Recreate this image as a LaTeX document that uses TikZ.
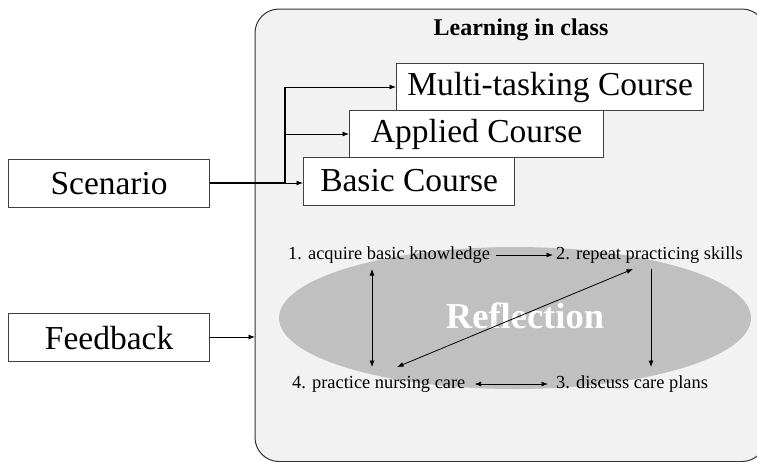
\documentclass[tikz,border=0pt]{standalone}
\usepackage{fontspec}
\setmainfont{Liberation Serif}
\usetikzlibrary{arrows.meta}
\definecolor{panel}{HTML}{F2F2F2}
\definecolor{refl}{HTML}{C0C0C0}
\definecolor{boxline}{HTML}{404040}
\tikzset{
  bigbox/.style={draw=boxline, line width=1.2pt, fill=white, inner sep=0pt, anchor=north west},
  bigtext/.style={font=\fontsize{33.5}{35}\selectfont},
  steptext/.style={font=\fontsize{18.4}{20}\selectfont, inner sep=0pt},
  conn/.style={line width=0.8pt, -{Latex[length=6.5pt,width=5pt]}},
  bconn/.style={line width=0.8pt, {Latex[length=6.5pt,width=5pt]}-{Latex[length=6.5pt,width=5pt]}},
}
\begin{document}
\begin{tikzpicture}[x=1pt,y=-1pt]
\useasboundingbox (0,0) rectangle (757,461);
% panel
\draw[fill=panel, draw=black!80, line width=1pt, rounded corners=24pt] (255,9) rectangle (766,461.5);
\node[font=\fontsize{24}{26}\selectfont\bfseries] (title) at (521,30) {Learning in class};
% reflection ellipse
\fill[refl] (515,318) ellipse [x radius=236, y radius=71];
\node[font=\fontsize{36.5}{38}\selectfont\bfseries, text=white] (refl) at (525,316) {Reflection};
% course boxes
\node[bigbox, minimum width=307pt, minimum height=47pt] (multi) at (396,63) {};
\node[bigtext] at (multi.center) {Multi-tasking Course};
\node[bigbox, minimum width=254pt, minimum height=47pt] (applied) at (349,110) {};
\node[bigtext] at (applied.center) {Applied Course};
\node[bigbox, minimum width=211pt, minimum height=48pt] (basic) at (303,157) {};
\node[bigtext] at ([yshift=1pt]basic.center) {Basic Course};
% left boxes
\node[bigbox, minimum width=201pt, minimum height=48pt] (scen) at (8,159) {};
\node[bigtext] at (scen.center) {Scenario};
\node[bigbox, minimum width=201pt, minimum height=48pt] (feed) at (8,313) {};
\node[bigtext] at (feed.center) {Feedback};
% scenario connectors
\coordinate (split) at (285,183);
\draw[line width=1.6pt] (scen.east |- split) -- (split);
\draw[line width=1.3pt] (split) -- (285,87);
\draw[conn] (split) -- (basic.west |- split);
\draw[conn] (285,134) -- (applied.west |- 285,134);
\draw[conn] (285,87) -- (multi.west |- 285,87);
% feedback connector
\coordinate (fin) at (255,337);
\draw[conn] (feed.east |- fin) -- (fin);
% step labels
\node[steptext, anchor=west] (s1) at (288,255) {1. acquire basic knowledge};
\node[steptext, anchor=west] (s2) at (556,255) {2. repeat practicing skills};
\node[steptext, anchor=west] (s4) at (292,384) {4. practice nursing care};
\node[steptext, anchor=west] (s3) at (556,384) {3. discuss care plans};
% step arrows
\draw[conn] ([xshift=6pt]s1.east) -- ([xshift=-3pt]s2.west);
\draw[bconn] (372,269) -- (372,367);
\draw[bconn] (633,269) -- (397,367);
\draw[conn] (651,269) -- (651,367);
\draw[bconn] ([xshift=9pt]s4.east) -- ([xshift=-8pt]s3.west);
\end{tikzpicture}
\end{document}
